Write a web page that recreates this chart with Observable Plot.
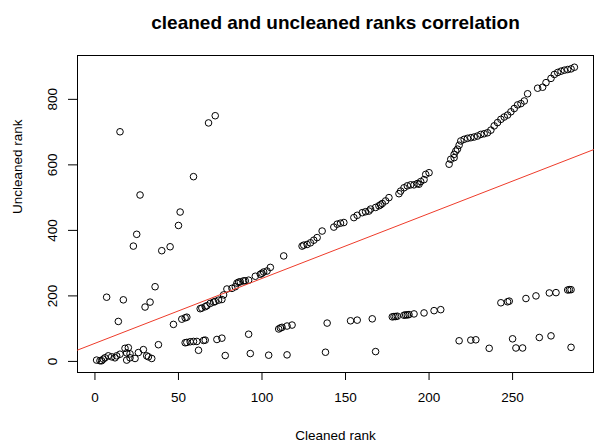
<!DOCTYPE html>
<html><head><meta charset="utf-8">
<script src="https://cdn.jsdelivr.net/npm/d3@7"></script>
<script src="https://cdn.jsdelivr.net/npm/@observablehq/plot@0.6"></script>
<style>body{margin:0;background:#fff}</style>
</head><body><div id="chart"></div>
<script>
const chartTitle = "cleaned and uncleaned ranks correlation";
const xLabel = "Cleaned rank";
const yLabel = "Uncleaned rank";
const xTicks = [0, 50, 100, 150, 200, 250];
const yTicks = [0, 200, 400, 600, 800];

const cleanedRank = [
  1,3,4,5,6,7,8,10,12,13,14,15,15,17,18,19,19,20,21,21,23,24,25,26,27,29,30,31,32,33,34,36,38,40,45,47,50,51,
  52,54,54,55,55,57,59,59,61,62,63,64,65,66,66,67,68,69,71,72,72,73,74,76,76,77,78,79,82,84,85,86,87,89,90,92,92,93,
  96,99,100,101,103,104,105,110,111,112,113,115,115,118,124,125,127,129,131,133,136,138,139,143,145,147,149,
  153,155,157,157,160,162,164,165,166,168,168,170,171,172,174,176,178,179,180,181,182,183,185,185,186,187,187,188,
  189,191,191,193,194,195,197,197,198,200,203,207,212,213,215,215,216,217,218,218,219,221,223,225,225,227,228,229,
  231,233,235,236,237,239,241,243,243,245,247,247,248,249,250,251,252,253,255,256,257,258,259,264,265,266,268,270,
  272,273,273,275,276,277,279,281,283,283,284,285,285,285,287
];
const uncleanedRank = [
  4,2,2,7,11,196,17,14,11,17,122,701,22,188,40,26,4,42,23,11,352,9,388,27,508,36,166,17,14,181,9,228,51,338,350,113,415,456,
  129,133,57,135,58,60,61,564,61,34,161,163,64,167,65,170,728,177,181,750,183,67,187,189,71,203,18,221,223,228,239,242,243,246,246,248,83,24,
  260,266,269,273,276,19,287,99,102,104,322,108,20,111,352,355,357,362,370,378,398,28,117,410,419,422,424,
  124,439,446,126,454,457,459,465,130,470,30,475,478,482,490,500,136,137,137,138,512,520,530,141,142,536,142,143,
  539,539,145,543,541,549,555,148,571,576,155,158,602,617,622,632,642,648,63,660,673,678,681,683,65,685,66,688,
  693,695,698,40,706,719,729,739,179,746,752,182,184,762,69,772,41,783,787,41,795,192,817,200,834,73,837,851,
  209,864,78,876,210,882,886,889,891,218,219,893,219,43,898
];
const fitIntercept = 55.2;
const fitSlope = 1.981;

const points = cleanedRank.map((x, i) => ({x, y: uncleanedRank[i]}));
const pad = ext => { const d = (ext[1] - ext[0]) * 0.04; return [ext[0] - d, ext[1] + d]; };
const xDomain = pad(d3.extent(cleanedRank));
const yDomain = pad(d3.extent(uncleanedRank));
const fitLine = xDomain.map(x => ({x, y: fitIntercept + fitSlope * x}));

const plot = Plot.plot({
  width: 600, height: 446,
  marginLeft: 77, marginRight: 7, marginTop: 55, marginBottom: 74,
  style: {fontFamily: "'Liberation Sans', Arial, Helvetica, sans-serif", fontSize: "13.5px", background: "white", color: "black", overflow: "visible"},
  x: {domain: xDomain, ticks: xTicks, tickSize: 8, tickPadding: 12, label: null, tickFormat: d => String(d)},
  y: {domain: yDomain, ticks: yTicks, tickSize: 9, tickPadding: 12, tickRotate: -90, label: null, tickFormat: d => String(d)},
  marks: [
    Plot.frame({stroke: "black", strokeWidth: 1}),
    Plot.dot(points, {x: "x", y: "y", r: 3.3, stroke: "black", strokeWidth: 1, fill: "none"}),
    Plot.line(fitLine, {x: "x", y: "y", stroke: "#ee3b2a", strokeWidth: 1}),
    Plot.text([chartTitle], {text: d => d, frameAnchor: "top", dy: -40, fontWeight: "bold", fontSize: 19}),
    Plot.text([xLabel], {text: d => d, frameAnchor: "bottom", dy: 63, lineAnchor: "middle"}),
    Plot.text([yLabel], {text: d => d, frameAnchor: "left", dx: -60, rotate: -90, lineAnchor: "middle"})
  ]
});
document.getElementById("chart").append(plot);
</script>
</body></html>
